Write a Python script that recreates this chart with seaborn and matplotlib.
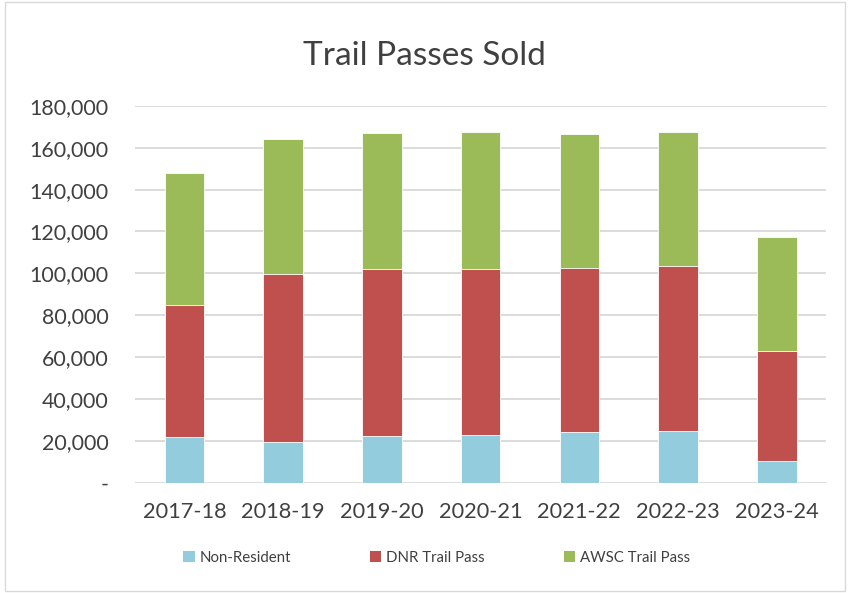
import matplotlib
matplotlib.use("Agg")
import matplotlib.pyplot as plt
import seaborn as sns
import pandas as pd
from matplotlib.patches import Rectangle, Patch
from matplotlib.ticker import FuncFormatter

# values
years = ['2017-18', '2018-19', '2019-20', '2020-21', '2021-22', '2022-23', '2023-24']
non_resident = [21600, 19500, 22400, 22700, 24200, 24800, 10100]
dnr_pass = [63200, 80000, 79700, 79500, 78400, 78900, 52900]
awsc_pass = [63300, 64600, 65000, 65400, 63800, 63700, 54300]

series = ['Non-Resident', 'DNR Trail Pass', 'AWSC Trail Pass']
colors = ['#93CDDD', '#C0504D', '#9BBB59']

df = pd.DataFrame({'Year': years, 'Non-Resident': non_resident,
                   'DNR Trail Pass': dnr_pass, 'AWSC Trail Pass': awsc_pass})
# running totals for stacking
df['top_nr'] = df['Non-Resident']
df['top_dnr'] = df['top_nr'] + df['DNR Trail Pass']
df['top_awsc'] = df['top_dnr'] + df['AWSC Trail Pass']

sns.set_theme(style='white')
plt.rcParams['font.family'] = ['Lato', 'DejaVu Sans']
text_col = '#404040'

fig = plt.figure(figsize=(8.48, 5.93), dpi=100)
ax = fig.add_axes([0.1592, 0.1863, 0.815, 0.635])

# draw tallest first so the lower segments sit on top
for col, c in zip(['top_awsc', 'top_dnr', 'top_nr'], colors[::-1]):
    sns.barplot(data=df, x='Year', y=col, color=c, width=0.4, ax=ax,
                edgecolor='white', linewidth=0.6, saturation=1, zorder=3)

ax.set_ylim(0, 180000)
ax.set_xlim(-0.5, 6.5)
ax.set_yticks(range(0, 180001, 20000))
ax.yaxis.set_major_formatter(FuncFormatter(lambda v, p: '-' if v == 0 else f'{int(v):,}'))
ax.grid(axis='y', color='#d9d9d9', linewidth=1.3, zorder=0)
ax.set_axisbelow(True)
for s in ax.spines.values():
    s.set_visible(False)
ax.set_xlabel('')
ax.set_ylabel('')
ax.tick_params(axis='x', length=0, pad=14, labelsize=15.7, labelcolor=text_col)
ax.tick_params(axis='y', length=0, pad=19, labelsize=15.4, labelcolor=text_col)

fig.text(0.5, 0.906, 'Trail Passes Sold', ha='center', va='center',
         fontsize=24, color=text_col)

handles = [Patch(facecolor=c, edgecolor='none') for c in colors]
fig.legend(handles, series, loc='center', bbox_to_anchor=(0.515, 0.059), ncol=3,
           frameon=False, fontsize=10.8, handlelength=0.75, handleheight=0.75,
           handletextpad=0.3, columnspacing=5.3, labelcolor=text_col)

# light chart-area border
fig.patches.append(Rectangle((0.006, 0.004), 0.99, 0.992, transform=fig.transFigure,
                             fill=False, edgecolor='#d9d9d9', linewidth=1))

fig.savefig('out.png', dpi=100)
